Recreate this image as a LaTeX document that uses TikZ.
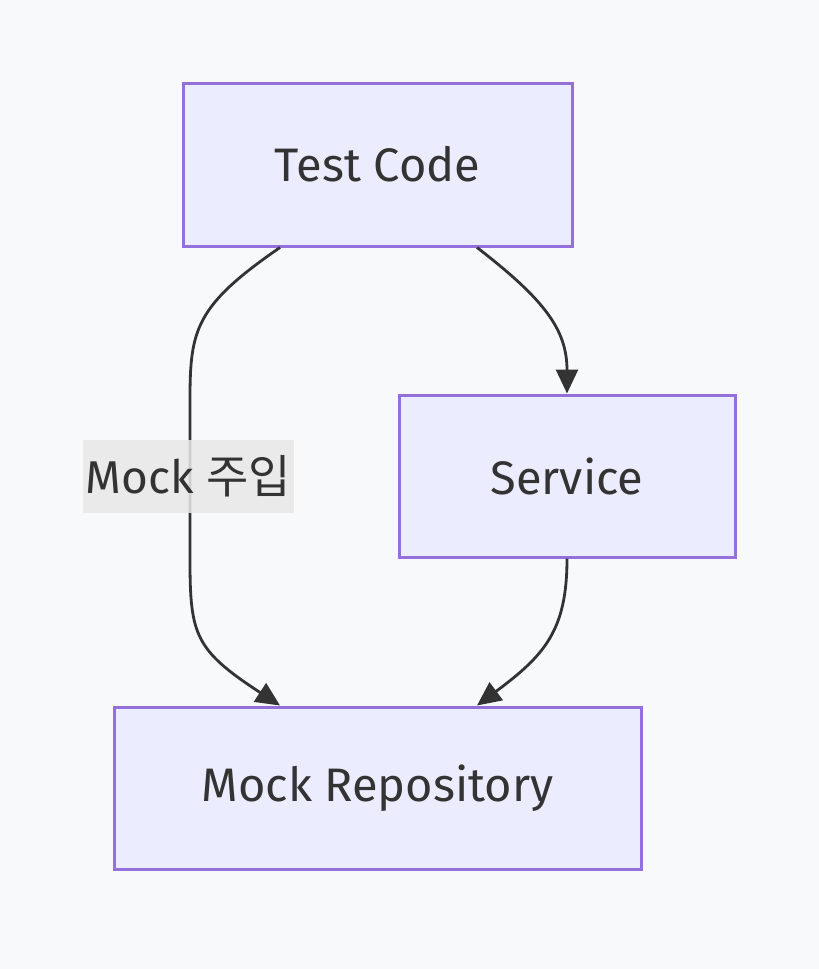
\documentclass[tikz,border=0pt]{standalone}
\usepackage{fontspec}
\setmainfont{Fira Sans}
\newfontfamily\krfont{Noto Sans CJK KR}
\usetikzlibrary{arrows.meta,calc}
\definecolor{bgc}{HTML}{F8F9FB}
\definecolor{nodefill}{HTML}{ECECFF}
\definecolor{nodeline}{HTML}{9370DB}
\definecolor{txt}{HTML}{333333}
\definecolor{lblbg}{HTML}{E8E8E8}
\tikzset{
  box/.style={draw=nodeline, fill=nodefill, line width=3pt, inner sep=0pt,
    text=txt, font=\fontsize{47}{52}\selectfont},
  edge/.style={draw=txt, line width=2.8pt, -{Triangle[length=24pt,width=22pt]}},
  lbl/.style={fill=lblbg, fill opacity=0.85, text opacity=1, text=txt, inner sep=0pt,
    font=\fontsize{46}{52}\selectfont}
}
\begin{document}
\begin{tikzpicture}[x=1pt,y=1pt]
\fill[bgc] (0,0) rectangle (819,-969);
\useasboundingbox (0,0) rectangle (819,-969);
\node[box, minimum width=389pt, minimum height=163pt] (tc) at (377.5,-164.5) {Test Code};
\node[box, minimum width=336pt, minimum height=162pt] (sv) at (567,-476) {Service};
\node[box, minimum width=527pt, minimum height=162pt] (mr) at (377.5,-788) {Mock Repository};
\draw[edge] ([xshift=-97.5pt]tc.south) .. controls (195,-306) and (190,-330) .. (190,-400)
  -- (190,-560) .. controls (190,-635) and (195,-650) .. ([xshift=-97.5pt]mr.north);
\draw[edge] ([xshift=99.5pt]tc.south) .. controls (545,-300) and (567,-330) .. (sv.north);
\draw[edge] (sv.south) .. controls (567,-630) and (545,-655) .. ([xshift=99.5pt]mr.north);
\node[lbl, minimum width=211pt, minimum height=73pt] (l1) at (188.5,-476) {Mock {\krfont 주입}};
\end{tikzpicture}
\end{document}
